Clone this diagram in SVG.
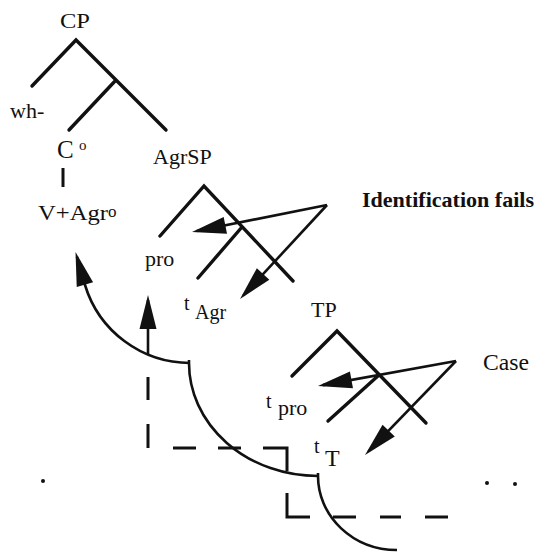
<svg xmlns="http://www.w3.org/2000/svg" width="542" height="552" viewBox="0 0 542 552">
<style>
.lbl{font-family:"Liberation Serif","Times New Roman",serif;font-size:22px;fill:#111}
.ann{font-family:"Liberation Serif","Times New Roman",serif;font-size:24px;fill:#111}
.tree{fill:none;stroke:#111;stroke-width:3.4;stroke-linecap:round;stroke-linejoin:miter}
.arr{fill:none;stroke:#111;stroke-width:2.6}
.dash{fill:none;stroke:#111;stroke-width:3}
.curve{fill:none;stroke:#111;stroke-width:2.6}
</style>
<defs>
<marker id="ah" viewBox="-30 -9 36 18" refX="0" refY="0" markerWidth="36" markerHeight="18" markerUnits="userSpaceOnUse" orient="auto" overflow="visible">
<path d="M5,0 L-29,-8.5 L-29,8.5 Z" fill="#111"/>
</marker>
</defs>
<rect width="542" height="552" fill="#fff"/>

<g id="connectors">
<path class="tree" d="M32,86 L76,40 L166,130 M116,80 L69,130"/>
<path class="tree" d="M160,236 L204,186 L293,281 M242,227 L198,278"/>
<path class="tree" d="M292,376 L337,331 L426,423 M379,375 L328,421"/>
<path class="arr" d="M327,205 L196.9,231" marker-end="url(#ah)"/>
<path class="arr" d="M327,205 L243.4,295.3" marker-end="url(#ah)"/>
<path class="arr" d="M456,361 L322.9,385.1" marker-end="url(#ah)"/>
<path class="arr" d="M456,361 L368.5,451.4" marker-end="url(#ah)"/>
<path class="curve" d="M190,363 A110,110 0 0 1 85,285 L76.9,256.8" marker-end="url(#ah)"/>
<path class="arr" d="M148,355 L148,300" marker-end="url(#ah)"/>
<path class="curve" d="M189,360 L189,363 A129,113 0 0 0 318,476"/>
<path class="curve" d="M318,473 L318,476 A79,74 0 0 0 397,550"/>
<path class="dash" d="M63,168 V187"/>
<path class="dash" d="M148,377 V400 M148,424 V448 M173,448 H196 M218,448 H241 M263,448 H287 V471 M287,493 V517 H310 M333,517 H356 M380,517 H401 M425,517 H448"/>
<circle cx="43" cy="481" r="2" fill="#111"/>
<circle cx="487" cy="483" r="2" fill="#111"/>
<circle cx="515" cy="484" r="2" fill="#111"/>
</g>

<g id="n-CP"><text class="lbl" x="60" y="28" textLength="30" lengthAdjust="spacingAndGlyphs">CP</text></g>
<g id="n-wh"><text class="lbl" x="10" y="118">wh-</text></g>
<g id="n-C0"><text class="lbl" x="57" y="158" style="font-size:25px">C<tspan x="79" y="150" style="font-size:15px">o</tspan></text></g>
<g id="n-AgrSP"><text class="lbl" x="153" y="164">AgrSP</text></g>
<g id="n-VAgr"><text class="lbl" x="38" y="220"><tspan textLength="70" lengthAdjust="spacingAndGlyphs">V+Agr</tspan><tspan x="108" y="217" style="font-size:17px">o</tspan></text></g>
<g id="n-pro"><text class="lbl" x="145" y="266">pro</text></g>
<g id="n-tAgr"><text class="lbl" x="184" y="310" style="font-size:20px">t<tspan x="195" y="319">Agr</tspan></text></g>
<g id="n-TP"><text class="lbl" x="311" y="317">TP</text></g>
<g id="n-tpro"><text class="lbl" x="266" y="408" style="font-size:20px">t<tspan x="278" y="415" style="font-size:22px">pro</tspan></text></g>
<g id="n-tT"><text class="lbl" x="314" y="453" style="font-size:20px">t<tspan x="325" y="466" style="font-size:24px">T</tspan></text></g>
<g id="n-idfail"><text class="ann" x="362" y="207" style="font-weight:bold;font-size:22px" textLength="172" lengthAdjust="spacingAndGlyphs">Identification fails</text></g>
<g id="n-case"><text class="ann" x="483" y="370" textLength="46" lengthAdjust="spacingAndGlyphs">Case</text></g>
</svg>
